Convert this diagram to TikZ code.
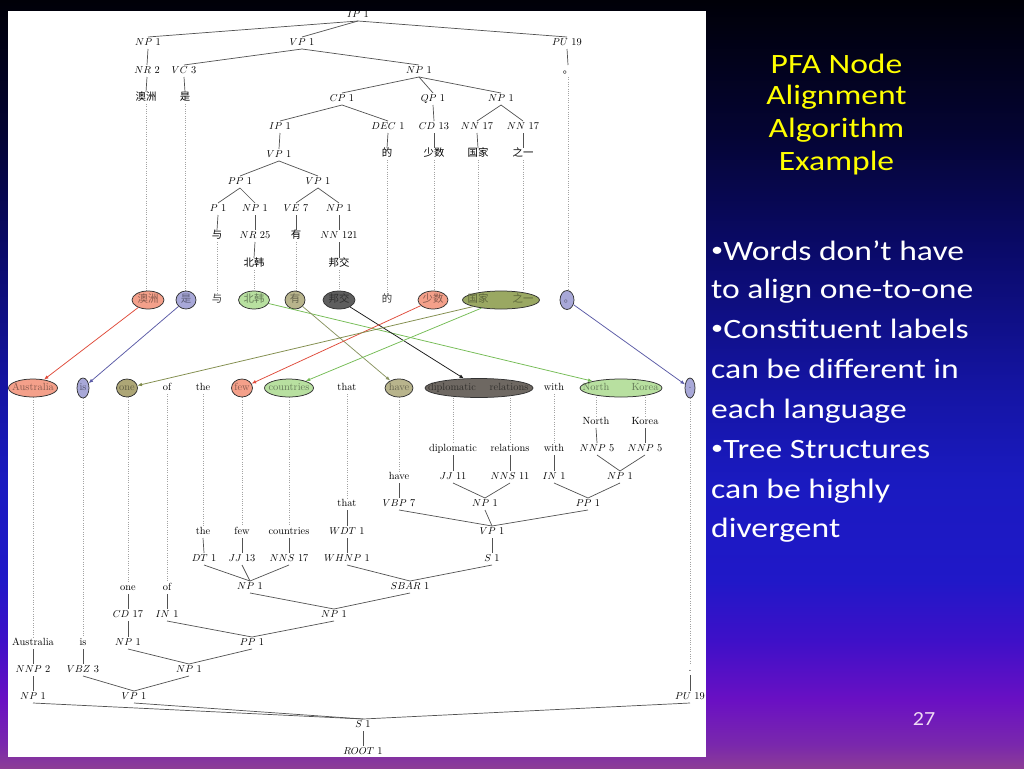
\documentclass[tikz,border=0pt]{standalone}
\usepackage{fontspec}
\usepackage{graphicx}
\newfontfamily\cjk{Noto Sans CJK SC}
\newfontfamily\slidefont{Carlito}
\usetikzlibrary{arrows.meta,shapes.geometric}
\newcommand\trfont{\fontsize{10.4}{12}\selectfont}
\newcommand\smbul{\raisebox{0.12em}{\scalebox{0.72}{•}}}
\definecolor{salm}{HTML}{F4A08A}
\definecolor{lav}{HTML}{A8A8D8}
\definecolor{lgreen}{HTML}{B8E0A0}
\definecolor{khaki}{HTML}{B8B48C}
\definecolor{khakitwo}{HTML}{ADA676}
\definecolor{olivef}{HTML}{9AA862}
\definecolor{dgray}{HTML}{5E5E5E}
\definecolor{dgraytwo}{HTML}{6E6862}
\definecolor{arRed}{HTML}{E04A3A}
\definecolor{arBlue}{HTML}{5A5AA6}
\definecolor{arGreen}{HTML}{74BC54}
\definecolor{arOlive}{HTML}{7E8A48}
\definecolor{arKhaki}{HTML}{8A9462}
\definecolor{ttl}{HTML}{FFFF00}
\definecolor{pagenum}{HTML}{F0DCF4}
\pgfdeclareverticalshading{slidebg}{100bp}{rgb(0bp)=(.549,.235,.588); rgb(25bp)=(.549,.235,.588); rgb(26.5bp)=(.478,.157,.675); rgb(29.4bp)=(.416,.063,.765); rgb(33.3bp)=(.243,.063,.784); rgb(37.2bp)=(.125,.094,.784); rgb(43.75bp)=(.102,.102,.753); rgb(50.3bp)=(.078,.078,.627); rgb(58.7bp)=(.039,.039,.412); rgb(66.5bp)=(.016,.016,.196); rgb(75bp)=(0,0,.03); rgb(100bp)=(0,0,.03)}
\pgfdeclarelayer{bg}
\pgfdeclarelayer{lines}
\pgfsetlayers{bg,lines,main}
\tikzset{
 lab/.style={inner sep=1pt, text height=7.4pt, text depth=2.2pt, font=\trfont},
 cw/.style={lab, font=\trfont\cjk},
 edge/.style={draw=black!68, line width=0.7pt},
 dots/.style={draw=black!36, line width=0.6pt, dash pattern=on 0.8pt off 1.5pt},
 al/.style={ellipse, draw=black!80, line width=0.75pt, inner sep=0pt},
 arr/.style={-{Latex[length=4.5pt,width=3.6pt]}, line width=0.75pt},
 bodyt/.style={anchor=base west, text=white, inner sep=0pt, font=\slidefont\fontsize{28}{34}\selectfont},
 titlet/.style={anchor=base, text=ttl, inner sep=0pt, font=\slidefont\fontsize{28}{34}\selectfont},
}
\begin{document}
\begin{tikzpicture}[x=1pt,y=-1pt]
\useasboundingbox (0,0) rectangle (1024,768);
\begin{pgfonlayer}{bg}
\shade[shading=slidebg] (0,0) rectangle (1024,768);
\fill[white] (8,11) rectangle (706,757);
\end{pgfonlayer}

\begin{scope}
\clip (8,11) rectangle (706,757);
% ---------- top (Chinese) tree ----------
\node[lab] (tIP) at (358,15) {$IP$ 1};
\node[lab] (tNP1) at (148,43) {$NP$ 1};
\node[lab] (tVP1) at (302,43) {$VP$ 1};
\node[lab] (tPU) at (567,43) {$PU$ 19};
\node[lab] (tNR2) at (147,71) {$NR$ 2};
\node[lab] (tVC3) at (184,71) {$VC$ 3};
\node[lab] (tNP2) at (419,71) {$NP$ 1};
\node[cw] (tPer) at (568,71) {。};
\node[cw] (tAo) at (146,98) {澳洲};
\node[cw] (tShi) at (185,98) {是};
\node[lab] (tCP) at (342,99) {$CP$ 1};
\node[lab] (tQP) at (433,99) {$QP$ 1};
\node[lab] (tNP3) at (501,99) {$NP$ 1};
\node[lab] (tIP2) at (280,127) {$IP$ 1};
\node[lab] (tDEC) at (388,127) {$DEC$ 1};
\node[lab] (tCD) at (434,127) {$CD$ 13};
\node[lab] (tNN1) at (477,127) {$NN$ 17};
\node[lab] (tNN2) at (523,127) {$NN$ 17};
\node[lab] (tVP2) at (279,155) {$VP$ 1};
\node[cw] (tDe) at (387,154) {的};
\node[cw] (tShao) at (434,154) {少数};
\node[cw] (tGuo) at (478,154) {国家};
\node[cw] (tZhi) at (523,154) {之一};
\node[lab] (tPP) at (240,182) {$PP$ 1};
\node[lab] (tVP3) at (318,182) {$VP$ 1};
\node[lab] (tP) at (218,209) {$P$ 1};
\node[lab] (tNP4) at (255,209) {$NP$ 1};
\node[lab] (tVE) at (296,209) {$VE$ 7};
\node[lab] (tNP5) at (339,209) {$NP$ 1};
\node[cw] (tYu) at (217,236) {与};
\node[lab] (tNR25) at (255,236) {$NR$ 25};
\node[cw] (tYou) at (296,236) {有};
\node[lab] (tNN121) at (339,236) {$NN$ 121};
\node[cw] (tBei) at (254,264) {北韩};
\node[cw] (tBang) at (339,264) {邦交};

% ---------- Chinese alignment row ----------
\node[al, fill=salm, minimum width=32pt, minimum height=18pt] (eAo) at (148,300) {};
\node[al, fill=lav, minimum width=20pt, minimum height=18pt] (eShi) at (186,300) {};
\node[al, fill=lgreen, minimum width=31pt, minimum height=18pt] (eBei) at (254,300) {};
\node[al, fill=khaki, minimum width=20pt, minimum height=18pt] (eYou) at (295,300) {};
\node[al, fill=dgray, minimum width=32pt, minimum height=18pt] (eBang) at (339,300) {};
\node[al, fill=salm, minimum width=30pt, minimum height=18pt] (eShao) at (433,300) {};
\node[al, fill=olivef, minimum width=77pt, minimum height=18pt] (eGZ) at (501,300) {};
\node[al, fill=lav, minimum width=14pt, minimum height=19pt] (ePer) at (567,300) {};
\node[cw, text=salm!55!black] (aAo) at (148,300) {澳洲};
\node[cw, text=lav!55!black] (aShi) at (186,300) {是};
\node[cw, text=black!80] (aYu) at (217,300) {与};
\node[cw, text=lgreen!55!black] (aBei) at (254,300) {北韩};
\node[cw, text=khaki!55!black] (aYou) at (295,300) {有};
\node[cw, text=dgray!50!black] (aBang) at (339,300) {邦交};
\node[cw, text=black!80] (aDe) at (387,300) {的};
\node[cw, text=salm!55!black] (aShao) at (433,300) {少数};
\node[cw, text=olivef!60!black] (aGuo) at (478,300) {国家};
\node[cw, text=olivef!60!black] (aZhi) at (523,300) {之一};
\node[cw, text=lav!55!black] (aPer) at (569,300) {。};

% ---------- English alignment row ----------
\node[al, fill=salm, minimum width=49pt, minimum height=18pt] (eAus) at (33,388) {};
\node[al, fill=lav, minimum width=12pt, minimum height=20pt] (eIs) at (83,388) {};
\node[al, fill=khakitwo, minimum width=21pt, minimum height=18pt] (eOne) at (127,388) {};
\node[al, fill=salm, minimum width=21pt, minimum height=18pt] (eFew) at (242,388) {};
\node[al, fill=lgreen, minimum width=49pt, minimum height=18pt] (eCountries) at (289,388) {};
\node[al, fill=khaki, minimum width=28pt, minimum height=18pt] (eHave) at (399,388) {};
\node[al, fill=dgraytwo, minimum width=108pt, minimum height=19pt] (eDR) at (479,388) {};
\node[al, fill=lgreen, minimum width=82pt, minimum height=18pt] (eNK) at (621,388) {};
\node[al, fill=lav, minimum width=10pt, minimum height=20pt] (eDot) at (690,388) {};
\node[lab, text=salm!55!black] (aAus) at (33,388) {Australia};
\node[lab, text=lav!50!black] (aIs) at (83,388) {is};
\node[lab, text=khakitwo!55!black] (aOne) at (127,388) {one};
\node[lab] (aOf) at (167,388) {of};
\node[lab] (aThe) at (203,388) {the};
\node[lab, text=salm!55!black] (aFew) at (242,388) {few};
\node[lab, text=lgreen!55!black] (aCountries) at (289,388) {countries};
\node[lab] (aThat) at (347,388) {that};
\node[lab, text=khaki!55!black] (aHave) at (399,388) {have};
\node[lab, text=dgraytwo!45!black] (aDipl) at (452,388) {diplomatic};
\node[lab, text=dgraytwo!45!black] (aRel) at (509,388) {relations};
\node[lab] (aWith) at (554,388) {with};
\node[lab, text=lgreen!55!black] (aNorth) at (596,388) {North};
\node[lab, text=lgreen!55!black] (aKorea) at (645,388) {Korea};
\node[lab, text=lav!50!black] (aDot) at (690,386) {.};

% ---------- bottom (English) tree ----------
\node[lab] (wNorth) at (596,422) {North};
\node[lab] (wKorea) at (645,422) {Korea};
\node[lab] (wDipl) at (453,449) {diplomatic};
\node[lab] (wRel) at (510,449) {relations};
\node[lab] (wWith) at (554,449) {with};
\node[lab] (bNNP1) at (597,449) {$NNP$ 5};
\node[lab] (bNNP2) at (645,449) {$NNP$ 5};
\node[lab] (wHave) at (399,477) {have};
\node[lab] (bJJ11) at (453,477) {$JJ$ 11};
\node[lab] (bNNS11) at (510,477) {$NNS$ 11};
\node[lab] (bIN1) at (554,477) {$IN$ 1};
\node[lab] (bNPnk) at (620,477) {$NP$ 1};
\node[lab] (wThat) at (347,504) {that};
\node[lab] (bVBP) at (399,504) {$VBP$ 7};
\node[lab] (bNPdr) at (485,504) {$NP$ 1};
\node[lab] (bPPw) at (588,504) {$PP$ 1};
\node[lab] (wThe) at (203,532) {the};
\node[lab] (wFew) at (242,532) {few};
\node[lab] (wCountries) at (289,532) {countries};
\node[lab] (bWDT) at (347,532) {$WDT$ 1};
\node[lab] (bVP) at (492,532) {$VP$ 1};
\node[lab] (bDT) at (204,559) {$DT$ 1};
\node[lab] (bJJ13) at (242,559) {$JJ$ 13};
\node[lab] (bNNS17) at (289,559) {$NNS$ 17};
\node[lab] (bWHNP) at (347,559) {$WHNP$ 1};
\node[lab] (bS) at (492,559) {$S$ 1};
\node[lab] (wOne) at (128,588) {one};
\node[lab] (wOf) at (167,588) {of};
\node[lab] (bNPc) at (250,587) {$NP$ 1};
\node[lab] (bSBAR) at (410,587) {$SBAR$ 1};
\node[lab] (bCD) at (128,615) {$CD$ 17};
\node[lab] (bIN2) at (167,615) {$IN$ 1};
\node[lab] (bNPx) at (334,615) {$NP$ 1};
\node[lab] (wAus) at (33,643) {Australia};
\node[lab] (wIs) at (83,643) {is};
\node[lab] (bNPone) at (128,643) {$NP$ 1};
\node[lab] (bPPof) at (252,643) {$PP$ 1};
\node[lab] (wDot) at (690,669) {.};
\node[lab] (bNNP2b) at (33,670) {$NNP$ 2};
\node[lab] (bVBZ) at (83,670) {$VBZ$ 3};
\node[lab] (bNPy) at (189,670) {$NP$ 1};
\node[lab] (bNPaus) at (33,697) {$NP$ 1};
\node[lab] (bVPis) at (134,697) {$VP$ 1};
\node[lab] (bPU) at (690,697) {$PU$ 19};
\node[lab] (bS1) at (363,725) {$S$ 1};
\node[lab] (bROOT) at (363,752) {$ROOT$ 1};

% ---------- alignment arrows ----------
\draw[arr, arRed] (eAo) -- (eAus);
\draw[arr, arBlue] (eShi) -- (eIs);
\draw[arr, arGreen] (eBei) -- (eNK);
\draw[arr, arKhaki] (eYou) -- (eHave);
\draw[arr, black!90] (eBang) -- (eDR);
\draw[arr, arRed] (eShao) -- (eFew);
\draw[arr, arOlive] (eGZ) -- (eOne);
\draw[arr, arGreen] (eGZ) -- (eCountries);
\draw[arr, arBlue] (ePer) -- (eDot);
\end{scope}

\begin{pgfonlayer}{lines}
\foreach \a/\b in {tIP/tNP1, tIP/tVP1, tIP/tPU, tNP1/tNR2, tNR2/tAo, tVP1/tVC3, tVP1/tNP2, tVC3/tShi, tNP2/tCP, tNP2/tQP, tNP2/tNP3, tCP/tIP2, tCP/tDEC, tIP2/tVP2, tVP2/tPP, tVP2/tVP3, tPP/tP, tPP/tNP4, tP/tYu, tNP4/tNR25, tNR25/tBei, tVP3/tVE, tVP3/tNP5, tVE/tYou, tNP5/tNN121, tNN121/tBang, tDEC/tDe, tQP/tCD, tCD/tShao, tNP3/tNN1, tNP3/tNN2, tNN1/tGuo, tNN2/tZhi, tPU/tPer}
  \draw[edge] (\a.south) -- (\b.north);
\foreach \a/\b in {wNorth/bNNP1, wKorea/bNNP2, bNNP1/bNPnk, bNNP2/bNPnk, wDipl/bJJ11, wRel/bNNS11, bJJ11/bNPdr, bNNS11/bNPdr, wWith/bIN1, bIN1/bPPw, bNPnk/bPPw, wHave/bVBP, bVBP/bVP, bNPdr/bVP, bPPw/bVP, bVP/bS, wThat/bWDT, bWDT/bWHNP, bWHNP/bSBAR, bS/bSBAR, wThe/bDT, wFew/bJJ13, wCountries/bNNS17, bDT/bNPc, bJJ13/bNPc, bNNS17/bNPc, bNPc/bNPx, bSBAR/bNPx, wOne/bCD, bCD/bNPone, wOf/bIN2, bIN2/bPPof, bNPx/bPPof, bNPone/bNPy, bPPof/bNPy, wAus/bNNP2b, bNNP2b/bNPaus, wIs/bVBZ, bVBZ/bVPis, bNPy/bVPis, bNPaus/bS1, bVPis/bS1, bPU/bS1, wDot/bPU, bS1/bROOT}
  \draw[edge] (\a.south) -- (\b.north);
% dotted word links, top tree to Chinese row
\foreach \a/\b in {tAo/eAo, tShi/eShi, tYu/aYu, tBei/eBei, tYou/eYou, tBang/eBang, tDe/aDe, tShao/eShao, tGuo/eGZ, tZhi/eGZ, tPer/ePer}
  \draw[dots] (\a.south) -- (\a |- \b.north);
% dotted word links, English row to bottom tree
\foreach \a/\b in {eAus/wAus, eIs/wIs, eOne/wOne, aOf/wOf, aThe/wThe, eFew/wFew, eCountries/wCountries, aThat/wThat, eHave/wHave, eDR/wDipl, eDR/wRel, aWith/wWith, eNK/wNorth, eNK/wKorea, eDot/wDot}
  \draw[dots] (\b |- \a.south) -- (\b.north);
\end{pgfonlayer}

% ---------- slide text ----------
\node[titlet] (ti1) at (836.5,73) {\scalebox{1.2}[1]{PFA Node}};
\node[titlet] (ti2) at (836.5,104) {\scalebox{1.2}[1]{Alignment}};
\node[titlet] (ti3) at (836.5,137) {\scalebox{1.2}[1]{Algorithm}};
\node[titlet] (ti4) at (836.5,170) {\scalebox{1.2}[1]{Example}};
\node[bodyt] (bl1) at (711,260) {\scalebox{1.2}[1]{\smbul Words don’t have}};
\node[bodyt] (bl2) at (711,298) {\scalebox{1.2}[1]{to align one-to-one}};
\node[bodyt] (bl3) at (711,338) {\scalebox{1.2}[1]{\smbul Constituent labels}};
\node[bodyt] (bl4) at (711,378) {\scalebox{1.2}[1]{can be different in}};
\node[bodyt] (bl5) at (711,418) {\scalebox{1.2}[1]{each language}};
\node[bodyt] (bl6) at (711,458) {\scalebox{1.2}[1]{\smbul Tree Structures}};
\node[bodyt] (bl7) at (711,498) {\scalebox{1.2}[1]{can be highly}};
\node[bodyt] (bl8) at (711,537) {\scalebox{1.2}[1]{divergent}};
\node[anchor=base, inner sep=0pt, text=pagenum, font=\slidefont\fontsize{20}{24}\selectfont] (pg) at (924,725) {\scalebox{1.1}[1]{27}};
\end{tikzpicture}
\end{document}
